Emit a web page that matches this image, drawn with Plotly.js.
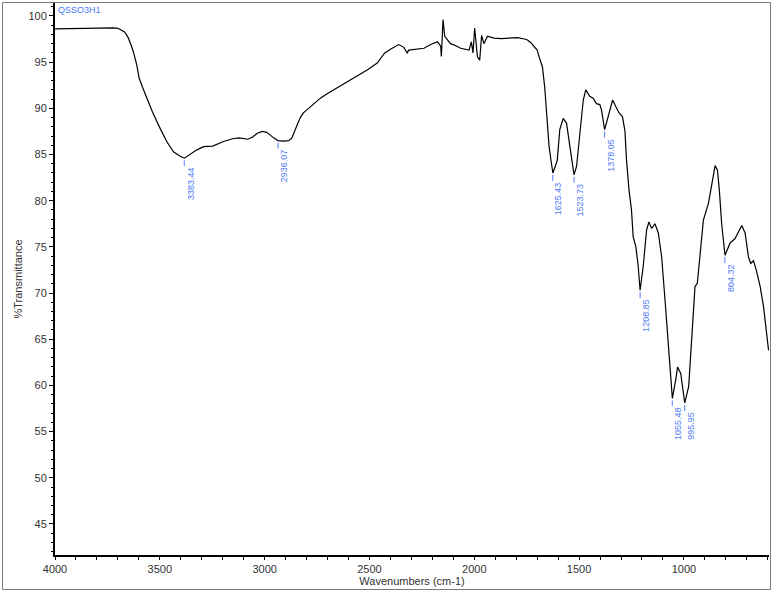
<!DOCTYPE html>
<html>
<head>
<meta charset="utf-8">
<script src="https://cdn.plot.ly/plotly-3.0.1.min.js"></script>
<style>html,body{margin:0;padding:0;background:#fff;}#chart{width:773px;height:592px;}</style>
</head>
<body>
<div id="chart"></div>
<script>
// Spectrum (wavenumber cm-1, %Transmittance)
const wavenumbers = [4000,3950,3900,3850,3800,3750,3720,3700,3685,3670,3660,3650,3638,3626,3610,3599,3583,3567,3535,3498,3467,3435,3403,3383,3360,3323,3291,3248,3196,3153,3121,3081,3057,3035,3012,2990,2957,2936,2910,2885,2870,2862,2845,2830,2815,2800,2766,2734,2700,2655,2620,2591,2550,2511,2463,2445,2428,2400,2384,2360,2336,2320,2312,2272,2240,2208,2176,2165,2160,2157,2149,2141,2113,2090,2065,2025,2014,2006,1998,1985,1974,1965,1954,1937,1906,1870,1842,1794,1760,1746,1730,1715,1700,1691,1675,1664,1654,1643,1632,1625,1612,1604,1592,1576,1560,1544,1524,1512,1496,1480,1468,1449,1433,1417,1401,1393,1378,1361,1340,1325,1309,1293,1281,1274,1262,1250,1242,1229,1218,1209,1194,1178,1167,1154,1138,1122,1106,1090,1074,1058,1055,1039,1030,1015,1003,996,977,963,947,936,923,907,883,867,851,840,831,820,808,804,780,756,740,724,708,692,681,668,655,636,620,604,596];
const transmittance = [98.6,98.62,98.68,98.66,98.74,98.72,98.7,98.66,98.5,98.3,98.0,97.6,96.9,96.1,94.7,93.3,92.3,91.4,89.6,87.8,86.4,85.3,84.8,84.6,84.95,85.5,85.85,85.9,86.4,86.7,86.8,86.65,86.9,87.3,87.5,87.4,86.8,86.5,86.45,86.5,86.8,87.3,88.2,89.0,89.5,89.8,90.5,91.1,91.6,92.2,92.7,93.1,93.6,94.15,94.9,95.4,95.96,96.4,96.6,96.9,96.6,96.0,96.3,96.4,96.5,96.9,97.2,96.9,96.7,95.6,99.6,97.8,97.0,96.8,96.5,96.3,97.2,96.0,98.7,95.6,95.2,97.9,97.0,97.8,97.6,97.55,97.6,97.65,97.5,97.4,97.1,96.7,96.3,95.6,94.5,92.3,88.7,85.85,84.05,83.0,83.8,84.4,87.7,88.9,88.4,85.85,82.8,83.7,87.7,90.9,92.0,91.3,91.1,90.5,90.4,89.8,87.7,89.1,90.9,90.2,89.5,89.1,87.5,84.5,81.2,79.0,76.1,75.0,72.9,70.3,72.9,76.8,77.7,77.0,77.5,76.5,73.9,69.25,64.2,59.15,58.6,60.6,62.0,61.3,59.15,58.1,59.9,64.9,70.7,71.05,73.9,77.9,79.7,81.9,83.8,83.3,81.2,77.55,75.0,74.1,75.4,75.9,76.6,77.3,76.5,73.9,73.2,73.5,72.5,70.7,68.5,65.6,63.8];

// Labelled peaks
const peakWn = [3383.44, 2936.07, 1625.43, 1523.73, 1378.05, 1208.85, 1055.48, 995.95, 804.32];
const peakT  = [84.6, 86.5, 83.0, 82.8, 87.7, 70.3, 58.6, 58.1, 74.1];
const sampleName = "QSSO3H1";

const blue = '#4f7bf7';
const FONT = 'Liberation Sans, Arial, sans-serif';

const shapes = peakWn.map((w, i) => ({
  type: 'line', xref: 'x', yref: 'y', ysizemode: 'pixel', yanchor: peakT[i],
  x0: w, x1: w, y0: -2, y1: -8,
  line: {color: blue, width: 1}
}));
// outer frame
shapes.push({
  type: 'rect', xref: 'paper', yref: 'paper',
  x0: (2.5 - 55) / 714, x1: (770.5 - 55) / 714,
  y0: (555 - 589.5) / 552, y1: (555 - 2.5) / 552,
  line: {color: '#7a7a7a', width: 1}
});

const annotations = peakWn.map((w, i) => ({
  x: w, y: peakT[i], xref: 'x', yref: 'y',
  text: w.toFixed(2), showarrow: false, textangle: -90,
  xanchor: 'left', yanchor: 'top', xshift: 0, yshift: -8,
  borderpad: 0,
  font: {family: FONT, size: 9, color: blue}
}));
annotations.push({
  x: 0, y: 1, xref: 'paper', yref: 'paper', xanchor: 'left', yanchor: 'top',
  text: sampleName, showarrow: false, xshift: 1,
  font: {family: FONT, size: 9, color: blue}
});

const trace = {
  x: wavenumbers, y: transmittance, type: 'scatter', mode: 'lines',
  line: {color: '#000', width: 1.2}, hoverinfo: 'skip'
};

const layout = {
  width: 773, height: 592,
  margin: {l: 55, r: 4, t: 3, b: 37},
  paper_bgcolor: '#fff', plot_bgcolor: '#fff',
  showlegend: false,
  font: {family: FONT, size: 11, color: '#333'},
  xaxis: {
    range: [4000, 594], showgrid: false, zeroline: false,
    showline: true, linecolor: '#000', linewidth: 2,
    ticks: 'outside', ticklen: 3, tickwidth: 1, tickcolor: '#000',
    tick0: 0, dtick: 500,
    minor: {dtick: 100, ticks: 'outside', ticklen: 3, tickcolor: '#000', showgrid: false},
    tickfont: {family: FONT, size: 11, color: '#333'},
    title: {text: 'Wavenumbers (cm-1)', font: {family: FONT, size: 11, color: '#333'}, standoff: 2}
  },
  yaxis: {
    range: [41.64, 101.4], showgrid: false, zeroline: false,
    showline: true, linecolor: '#000', linewidth: 2,
    ticks: 'outside', ticklen: 4, tickwidth: 1, tickcolor: '#000',
    tick0: 0, dtick: 5,
    minor: {dtick: 1, ticks: 'outside', ticklen: 2, tickcolor: '#000', showgrid: false},
    tickfont: {family: FONT, size: 11, color: '#333'},
    title: {text: '%Transmittance', font: {family: FONT, size: 11, color: '#333'}, standoff: 4}
  },
  shapes: shapes,
  annotations: annotations
};

Plotly.newPlot('chart', [trace], layout, {displayModeBar: false, staticPlot: true});
</script>
</body>
</html>
